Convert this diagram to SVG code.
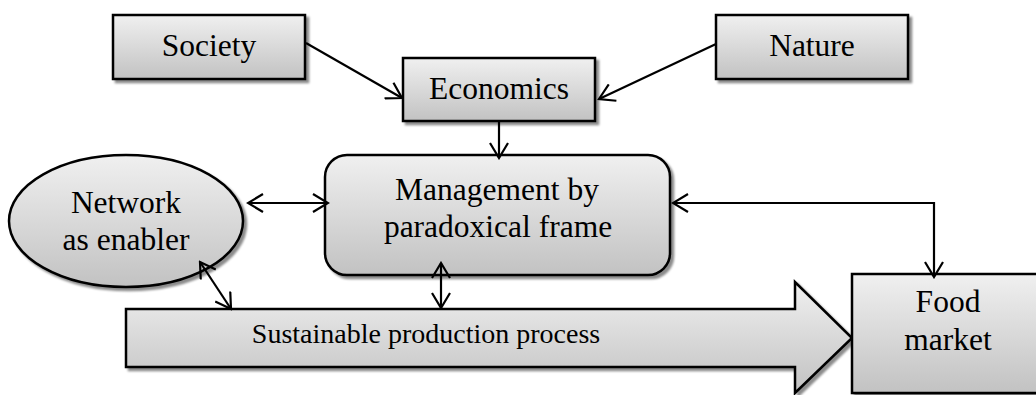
<svg xmlns="http://www.w3.org/2000/svg" width="1036" height="395" viewBox="0 0 1036 395">
<defs>
<linearGradient id="g" x1="0" y1="0" x2="0" y2="1">
<stop offset="0" stop-color="#f0f0f0"/>
<stop offset="1" stop-color="#c2c2c2"/>
</linearGradient>
<filter id="sh" x="-10%" y="-10%" width="120%" height="130%">
<feDropShadow dx="3" dy="3" stdDeviation="1" flood-color="#000" flood-opacity="0.45"/>
</filter>
<marker id="ah" viewBox="0 0 18 20" markerWidth="18" markerHeight="20" refX="16" refY="10" orient="auto-start-reverse" markerUnits="userSpaceOnUse">
<path d="M1,1 L16,10 L1,19" fill="none" stroke="#000" stroke-width="2.2"/>
</marker>
</defs>
<style>
.box{fill:url(#g);stroke:#000;stroke-width:2.5;filter:url(#sh)}
.t{font-family:"Liberation Serif","Times New Roman",serif;font-size:31.5px;fill:#000;text-anchor:middle}
.s{font-size:28px}
.c{fill:none;stroke:#000;stroke-width:2.2}
</style>
<g id="society"><rect class="box" x="113" y="15" width="192" height="64"/><text class="t" x="209" y="56">Society</text></g>
<g id="nature"><rect class="box" x="716" y="15" width="192" height="64"/><text class="t" x="812" y="56">Nature</text></g>
<g id="economics"><rect class="box" x="403" y="58" width="192" height="63"/><text class="t" x="499" y="99">Economics</text></g>
<g id="management"><rect class="box" x="325" y="155" width="345" height="120" rx="22" ry="22"/><text class="t" x="497" y="200">Management by</text><text class="t" x="498" y="237">paradoxical frame</text></g>
<g id="network"><ellipse class="box" cx="126" cy="221" rx="117" ry="66"/><text class="t" x="126" y="213">Network</text><text class="t" x="126" y="250">as enabler</text></g>
<g id="sustainable"><polygon class="box" points="126,309 795,309 795,282 852,338 795,393 795,367 126,367"/><text class="t s" x="426" y="343">Sustainable production process</text></g>
<g id="food"><rect class="box" x="852" y="274" width="192" height="119"/><text class="t" x="948" y="312">Food</text><text class="t" x="948" y="350">market</text></g>
<g id="connectors">
<line class="c" x1="306" y1="43" x2="402" y2="98" marker-end="url(#ah)"/>
<line class="c" x1="716" y1="44" x2="599" y2="99" marker-end="url(#ah)"/>
<line class="c" x1="499" y1="121" x2="499" y2="158" marker-end="url(#ah)"/>
<line class="c" x1="248" y1="203" x2="328" y2="203" marker-start="url(#ah)" marker-end="url(#ah)"/>
<polyline class="c" points="673,203 934,203 934,277" marker-start="url(#ah)" marker-end="url(#ah)"/>
<line class="c" x1="200" y1="262" x2="231" y2="309" marker-start="url(#ah)" marker-end="url(#ah)"/>
<line class="c" x1="441" y1="263" x2="441" y2="308" marker-start="url(#ah)" marker-end="url(#ah)"/>
</g>
</svg>
